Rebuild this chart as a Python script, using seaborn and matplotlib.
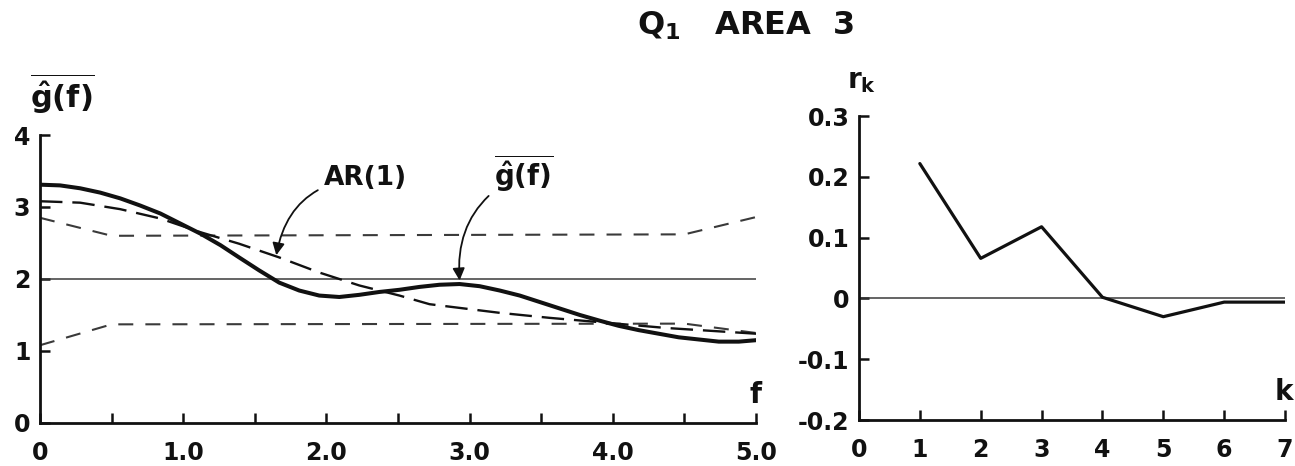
import numpy as np
import pandas as pd
import matplotlib
matplotlib.use("Agg")
import matplotlib.pyplot as plt
import seaborn as sns

### data

## left panel: smoothed spectrum and AR(1) fit
gbar_f = [0, 0.14, 0.28, 0.42, 0.56, 0.70, 0.84, 0.98, 1.12, 1.26, 1.39, 1.53,
          1.67, 1.81, 1.95, 2.09, 2.23, 2.37, 2.51, 2.65, 2.79, 2.93, 3.07, 3.21,
          3.35, 3.49, 3.63, 3.77, 3.91, 4.04, 4.18, 4.32, 4.46, 4.60, 4.74, 4.88, 5.0]
gbar_val = [3.31, 3.30, 3.26, 3.20, 3.12, 3.02, 2.91, 2.77, 2.63, 2.47, 2.30, 2.12,
            1.95, 1.84, 1.77, 1.75, 1.78, 1.82, 1.85, 1.89, 1.92, 1.93, 1.90, 1.84,
            1.77, 1.68, 1.59, 1.50, 1.42, 1.35, 1.29, 1.24, 1.19, 1.16, 1.13, 1.13, 1.15]

ar_f = [0, 0.28, 0.56, 0.84, 1.12, 1.39, 1.67, 1.95, 2.23, 2.51, 2.72, 3.21,
        3.56, 3.91, 4.37, 5.0]
ar_val = [3.08, 3.06, 2.97, 2.84, 2.65, 2.49, 2.30, 2.09, 1.91, 1.77, 1.65, 1.53,
          1.46, 1.40, 1.32, 1.24]

# confidence band
band_f = [0, 0.5, 4.5, 5.0]
band_upper = [2.85, 2.60, 2.62, 2.86]
band_lower = [1.08, 1.37, 1.38, 1.25]

# white noise level
level_f = [0, 5.0]
level_val = [2.0, 2.0]

f_ticks = [0, 0.5, 1.0, 1.5, 2.0, 2.5, 3.0, 3.5, 4.0, 4.5, 5.0]
f_ticklabels = ["0", "", "1.0", "", "2.0", "", "3.0", "", "4.0", "", "5.0"]
g_ticks = [0, 1, 2, 3, 4]
g_ticklabels = ["0", "1", "2", "3", "4"]

## right panel: autocorrelations
lag_k = [1, 2, 3, 4, 5, 6, 7]
r_k = [0.222, 0.066, 0.118, 0.002, -0.030, -0.006, -0.006]
zero_k = [0, 7]
zero_r = [0.0, 0.0]
k_ticks = [0, 1, 2, 3, 4, 5, 6, 7]
k_ticklabels = ["0", "1", "2", "3", "4", "5", "6", "7"]
r_ticks = [-0.2, -0.1, 0.0, 0.1, 0.2, 0.3]
r_ticklabels = ["-0.2", "-0.1", "0", "0.1", "0.2", "0.3"]

### figure
sns.set_style("ticks")
plt.rcParams["font.family"] = ["DejaVu Sans"]
plt.rcParams["font.weight"] = "bold"
plt.rcParams["mathtext.default"] = "regular"

ink = "#111111"
grey = "#3a3a3a"

fig = plt.figure(figsize=(12.95, 4.66), dpi=100)
ax1 = fig.add_axes([0.0309, 0.0923, 0.5529, 0.618])
ax2 = fig.add_axes([0.6633, 0.0987, 0.329, 0.652])

## left panel
sns.lineplot(x=level_f, y=level_val, ax=ax1, color=grey, lw=1.1)
sns.lineplot(x=band_f, y=band_upper, ax=ax1, color=grey, lw=1.5, linestyle=(0, (7.2, 5.8)))
sns.lineplot(x=band_f, y=band_lower, ax=ax1, color=grey, lw=1.5, linestyle=(0, (7.2, 5.8)))
sns.lineplot(x=ar_f, y=ar_val, ax=ax1, color=ink, lw=1.7, linestyle=(0, (9.5, 4.2)))
sns.lineplot(x=gbar_f, y=gbar_val, ax=ax1, color=ink, lw=2.9)

ax1.set_xlim(0, 5.0)
ax1.set_ylim(0, 4)
ax1.set_xticks(f_ticks)
ax1.set_xticklabels(f_ticklabels)
ax1.set_yticks(g_ticks)
ax1.set_yticklabels(g_ticklabels)
ax1.set_xlabel("")
ax1.set_ylabel("")

# labels and arrows
ax1.text(-0.07, 4.26, r"$\overline{\hat{g}(f)}$", fontsize=22, color=ink, ha="left", va="bottom")
ax1.text(5.0, 0.28, "f", fontsize=20, color=ink, ha="center", va="baseline")
ax1.annotate("AR(1)", xy=(1.65, 2.33), xytext=(1.98, 3.40), fontsize=19, color=ink,
             ha="left", va="center",
             arrowprops=dict(arrowstyle="-|>", color=ink, lw=1.3, mutation_scale=18,
                             connectionstyle="arc3,rad=0.4", shrinkA=2, shrinkB=0))
ax1.annotate(r"$\overline{\hat{g}(f)}$", xy=(2.93, 1.98), xytext=(3.17, 3.47), fontsize=20,
             color=ink, ha="left", va="center",
             arrowprops=dict(arrowstyle="-|>", color=ink, lw=1.3, mutation_scale=18,
                             connectionstyle="arc3,rad=0.35", shrinkA=2, shrinkB=0))

## right panel
sns.lineplot(x=zero_k, y=zero_r, ax=ax2, color=grey, lw=1.1)
sns.lineplot(x=lag_k, y=r_k, ax=ax2, color=ink, lw=2.3)

ax2.set_xlim(0, 7)
ax2.set_ylim(-0.2, 0.3)
ax2.set_xticks(k_ticks)
ax2.set_xticklabels(k_ticklabels)
ax2.set_yticks(r_ticks)
ax2.set_yticklabels(r_ticklabels)
ax2.set_xlabel("")
ax2.set_ylabel("")
ax2.text(0.05, 0.335, r"r$_k$", fontsize=20, color=ink, ha="center", va="bottom")
ax2.text(6.98, -0.167, "k", fontsize=20, color=ink, ha="center", va="baseline")

# axes look: only left/bottom, inward ticks
for ax in (ax1, ax2):
    sns.despine(ax=ax)
    for side in ("left", "bottom"):
        ax.spines[side].set_linewidth(2.0)
        ax.spines[side].set_color(ink)
    ax.tick_params(direction="in", length=7, width=1.8, colors=ink, labelsize=17)
    ax.tick_params(axis="x", pad=13)
    ax.tick_params(axis="y", pad=7)

# title
fig.text(0.576, 0.944, r"Q$_1$   AREA  3", fontsize=23, color=ink, ha="center", va="center")

plt.savefig("out.png", dpi=100)
